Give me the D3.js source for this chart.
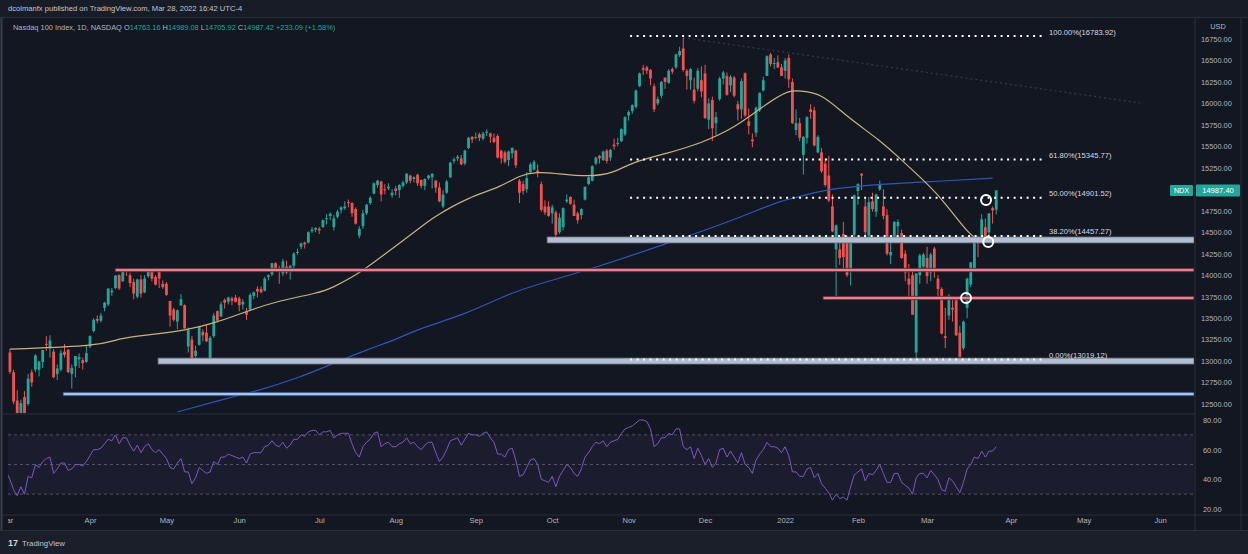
<!DOCTYPE html>
<html><head><meta charset="utf-8">
<script src="https://cdn.jsdelivr.net/npm/d3@7"></script>
<style>
html,body{margin:0;padding:0;background:#131722;}
svg{display:block;font-family:"Liberation Sans",Arial,sans-serif;}
</style>
</head><body>
<svg id="c" width="1248" height="554"></svg>
<script>
// ---------- DATA ----------
const monthLabels = ["Mar","Apr","May","Jun","Jul","Aug","Sep","Oct","Nov","Dec","2022","Feb","Mar","Apr","May","Jun"];
const monthStarts = [0,23,44,64,86,107,129,150,171,192,214,234,253,276,296,317];
const priceTicks = [12500,12750,13000,13250,13500,13750,14000,14250,14500,14750,15000,15250,15500,15750,16000,16250,16500,16750];
const rsiTicks = [20,40,60,80];

// daily candles [open, high, low, close]
const mar21 = [[13250,13290,13060,13091],[13100,13140,12850,12873],[12870,12900,12500,12528],[12540,12660,12200,12300],[12330,12550,12210,12510],[12580,12650,12210,12299],[12500,12850,12480,12795],[12870,12900,12700,12751],[12900,13080,12870,13066],[12900,13000,12820,12995],[12990,13130,12920,13129],[13200,13290,13120,13194],[13150,13300,13040,13239],[13110,13140,12800,12812],[12850,12960,12780,12915],[12900,13130,12880,13096],[13110,13200,13040,13072],[13130,13140,12860,12872],[12850,12960,12680,12922],[12940,13060,12810,13059],[13020,13090,12920,13046],[13010,13040,12900,12976],[12990,13180,12980,13091]];
const apr21 = [[13170,13300,13150,13290],[13350,13500,13330,13480],[13490,13530,13440,13470],[13470,13560,13450,13530],[13620,13690,13580,13680],[13660,13845,13640,13845],[13800,13850,13760,13819],[13850,14000,13840,13996],[14000,14010,13830,13845],[13930,14045,13920,14041],[14070,14070,13990,14041],[14000,14030,13860,13908],[13920,13960,13720,13786],[13750,13960,13730,13950],[13950,14000,13740,13786],[13800,14000,13790,13961],[13990,14070,13970,14062],[14070,14070,13930,13960],[13980,14000,13880,13890],[14050,14060,13850,13960],[13900,13940,13840,13860]];
const may21 = [[13900,13920,13760,13770],[13700,13700,13400,13530],[13600,13620,13460,13480],[13460,13600,13370,13590],[13650,13780,13640,13720],[13650,13660,13380,13380],[13170,13390,13100,13360],[13250,13290,12980,12990],[13060,13180,12970,13120],[13190,13410,13180,13400],[13340,13370,13230,13300],[13330,13420,13220,13230],[13000,13290,12990,13270],[13290,13560,13270,13530],[13580,13590,13450,13470],[13520,13690,13510,13660],[13710,13730,13610,13680],[13690,13750,13660,13740],[13730,13750,13650,13700],[13740,13770,13680,13690]];
const jun21 = [[13730,13750,13580,13650],[13660,13720,13600,13690],[13580,13620,13480,13540],[13600,13790,13590,13770],[13760,13810,13720,13800],[13840,13870,13740,13810],[13840,13870,13790,13800],[13820,13980,13810,13960],[13980,14010,13940,14000],[14010,14140,13990,14140],[14140,14150,14050,14070],[14080,14110,13900,14040],[14020,14190,13990,14160],[14100,14170,14010,14030],[14050,14120,13950,14110],[14110,14270,14080,14250],[14260,14310,14240,14270],[14330,14380,14300,14370],[14380,14390,14310,14360],[14380,14510,14370,14500],[14510,14560,14490,14530],[14530,14560,14500,14550]];
const jul21 = [[14540,14560,14480,14522],[14560,14650,14550,14640],[14660,14710,14590,14663],[14690,14730,14640,14716],[14560,14700,14520,14660],[14680,14760,14660,14740],[14760,14800,14720,14790],[14780,14860,14760,14800],[14850,14880,14790,14840],[14840,14850,14680,14720],[14770,14790,14590,14600],[14460,14570,14430,14540],[14570,14760,14540,14720],[14720,14830,14700,14820],[14840,14920,14820,14900],[14950,15080,14940,15070],[15050,15110,15020,15100],[15090,15100,14860,14940],[15000,15060,14940,14990],[15010,15070,14990,15030],[14930,15000,14900,14960]];
const aug21 = [[15010,15040,14930,14980],[14990,15060,14900,15050],[15040,15100,15020,15080],[15080,15190,15060,15180],[15160,15170,15070,15100],[15120,15150,15080,15140],[15170,15180,15040,15070],[15110,15110,15010,15040],[15040,15130,14990,15120],[15130,15170,15110,15160],[15140,15190,15010,15180],[15100,15110,14960,15020],[15020,15080,14850,14860],[14800,14990,14780,14940],[14960,15110,14950,15090],[15140,15320,15130,15310],[15330,15370,15300,15350],[15360,15400,15330,15380],[15360,15400,15280,15290],[15300,15460,15280,15450],[15480,15610,15470,15600],[15610,15620,15540,15580]];
const sep21 = [[15600,15660,15580,15610],[15640,15660,15560,15600],[15590,15670,15570,15650],[15660,15700,15620,15670],[15650,15660,15540,15610],[15600,15650,15540,15550],[15620,15640,15360,15370],[15450,15460,15300,15360],[15430,15450,15300,15320],[15340,15450,15270,15440],[15420,15490,15360,15480],[15450,15460,15250,15280],[15100,15120,14840,14960],[15060,15100,14940,14980],[15000,15200,14960,15130],[15200,15310,15180,15290],[15230,15340,15220,15320],[15220,15290,15140,15200],[15060,15090,14740,14760],[14800,14870,14700,14730],[14800,14860,14680,14690]];
const oct21 = [[14720,14820,14600,14790],[14730,14750,14440,14470],[14500,14720,14480,14670],[14560,14790,14520,14780],[14860,14940,14840,14880],[14910,14920,14820,14830],[14820,14880,14690,14690],[14720,14740,14600,14640],[14700,14780,14650,14770],[14880,15030,14870,15030],[15060,15150,15050,15140],[15100,15280,15090,15270],[15300,15380,15280,15370],[15390,15400,15300,15360],[15340,15450,15330,15440],[15450,15470,15300,15330],[15370,15470,15330,15460],[15520,15590,15460,15500],[15530,15600,15500,15540],[15560,15710,15550,15700],[15640,15850,15620,15840]];
const nov21 = [[15860,15920,15800,15900],[15910,15990,15880,15980],[15960,16160,15940,16150],[16200,16360,16190,16350],[16410,16450,16330,16390],[16420,16440,16340,16380],[16390,16400,16210,16290],[16200,16230,15900,15930],[16000,16080,15980,16050],[16090,16260,16060,16250],[16300,16300,16170,16250],[16240,16400,16230,16380],[16400,16420,16340,16370],[16420,16580,16400,16570],[16560,16660,16540,16610],[16640,16765,16370,16390],[16380,16400,16160,16320],[16270,16410,16160,16400],[16160,16300,16000,16030],[16170,16410,16140,16380],[16270,16430,16070,16140]];
const dec21 = [[16350,16450,15820,15830],[15810,16060,15700,16000],[16040,16080,15560,15710],[15770,15900,15630,15840],[16050,16310,16030,16290],[16290,16380,16220,16360],[16320,16360,16090,16100],[16210,16330,16130,16310],[16300,16320,16070,16090],[15990,16030,15800,15930],[15930,16290,15820,16260],[16350,16360,15840,15860],[15790,15940,15640,15740],[15580,15650,15490,15560],[15660,15960,15610,15950],[15920,16130,15900,16120],[16150,16310,16140,16270],[16320,16560,16320,16550],[16570,16590,16430,16460],[16460,16530,16400,16470],[16480,16560,16410,16420],[16420,16460,16320,16320]];
const jan22 = [[16380,16530,16290,16500],[16530,16570,16180,16280],[16250,16290,15760,15770],[15690,15930,15630,15770],[15770,15830,15560,15600],[15400,15620,15170,15610],[15600,15850,15530,15840],[15930,15990,15820,15900],[15920,15960,15500,15510],[15430,15630,15420,15610],[15430,15480,15190,15210],[15300,15360,15030,15050],[15160,15390,14850,14870],[14800,14940,14500,14510],[14300,14590,13725,14580],[14300,14400,14120,14200],[14480,14620,14040,14210],[14400,14460,13980,14000],[14050,14450,13880,14440],[14470,14940,14440,14930]];
const feb22 = [[14980,15070,14820,15060],[15180,15190,14990,15160],[14800,14890,14460,14500],[14460,14910,14430,14850],[14860,14960,14740,14770],[14740,14950,14680,14940],[15000,15100,14980,15050],[14800,15000,14650,14690],[14700,14770,14230,14250],[14230,14400,14130,14270],[14450,14630,14420,14620],[14570,14650,14420,14620],[14490,14530,14190,14200],[14250,14290,13930,14030],[13960,14130,13750,13890],[14000,14050,13540,13540],[13100,14020,13020,14020],[14000,14250,13900,14230],[14100,14260,14050,14240]];
const mar22 = [[14200,14330,13900,13990],[14030,14260,13930,14240],[14310,14330,13970,14040],[13960,14000,13720,13840],[13840,13860,13310,13320],[13290,13620,13150,13270],[13530,13780,13480,13760],[13620,13720,13460,13600],[13720,13730,13290,13300],[13330,13410,13040,13050],[13150,13470,13130,13460],[13620,13970,13500,13960],[13890,14150,13860,14150],[14070,14420,14050,14420],[14410,14460,14210,14370],[14400,14710,14390,14650],[14560,14660,14430,14440],[14500,14720,14440,14720],[14780,14800,14600,14754],[14763,14989,14706,14987.4]];

const rsi = [45,40,33,29,35,30,42,41,50,48,52,54,55,44,47,51,51,46,47,50,50,49,52,
56,60,60,61,64,67,66,70,64,68,68,63,59,63,58,62,64,60,58,60,57,
54,48,47,51,54,45,45,37,41,48,46,44,45,52,50,55,55,57,56,55,
54,55,51,57,58,58,58,62,63,66,63,62,65,61,63,67,67,70,69,72,73,73,
70,72,72,73,68,70,71,71,71,64,58,55,62,65,67,71,72,62,64,65,62,
62,64,65,68,64,65,62,60,63,65,65,58,52,55,60,66,67,68,63,67,71,70,
70,69,71,72,68,65,57,57,55,60,61,53,42,43,48,53,54,50,40,39,38,
42,35,42,46,50,48,44,42,47,55,58,62,65,64,66,62,65,66,67,71,74,
75,76,78,80,80,79,74,62,64,68,68,71,70,74,74,62,60,62,54,61,56,
50,54,48,51,60,61,55,59,55,51,58,50,48,44,53,57,60,65,62,62,61,58,
62,56,45,45,42,42,47,48,41,44,37,34,31,26,30,27,28,26,35,43,
45,47,39,44,43,46,50,44,38,38,44,44,38,36,34,30,41,44,44,
41,46,43,40,33,32,41,39,35,31,38,47,50,55,54,59,55,59,59,62];

// moving averages [bar, price]
const ma50 = [[1,13140],[26,13175],[31,13268],[39,13303],[50,13362],[57,13443],[62,13513],[73,13688],[86,13793],[90,13862],[95,13978],[99,14084],[114,14561],[117,14666],[127,14910],[136,15027],[141,15166],[146,15201],[150,15190],[160,15143],[167,15190],[172,15318],[182,15423],[191,15539],[200,15710],[209,16001],[215,16156],[218,16144],[224,16121],[231,15842],[240,15574],[246,15341],[254,15027],[258,14840],[265,14445],[268,14400]];
const ma200 = [[47,12407],[62,12582],[68,12640],[81,12814],[90,12977],[99,13129],[108,13268],[114,13385],[127,13559],[136,13746],[145,13885],[160,14060],[182,14375],[200,14642],[213,14875],[218,14910],[224,14992],[240,15062],[258,15097],[271,15131]];

// fibonacci retracement
const fibRatios = [1, 0.618, 0.5, 0.382, 0];
const fibPrices = [16783.92, 15345.77, 14901.52, 14457.27, 13019.12];
const fibStart = 171.4, fibEnd = 285.4;

// horizontal drawings
const levelStarts = [148.6, 29.9, 224.4, 41.7, 15.6];
const levelPrices = [14410, 14060, 13734, 13000, 12616];
const levelKinds  = ["band", "pink", "pink", "band", "blue"];

const markers = [[269.2,14875],[269.8,14386],[263.7,13734]];
const trend = [[186,16765],[311.6,16005]];
const lastClose = 14987.40;

// ---------- DRAW ----------
const candles = [].concat(mar21,apr21,may21,jun21,jul21,aug21,sep21,oct21,nov21,dec21,jan22,feb22,mar22);
const svg = d3.select("#c");
const W = 1248, H = 554;
const paneL = 8, paneR = 1194, mainT = 18, mainB = 413, rsiT = 415, rsiB = 514;

const x = d3.scaleLinear().domain([0, 317]).range([6.3, 1160]);
const y = d3.scaleLinear().domain([12500, 16750]).range([404, 39]);
const yR = d3.scaleLinear().domain([20, 80]).range([509, 420]);

// backgrounds
svg.append("rect").attr("width", W).attr("height", H).attr("fill", "#131722");
svg.append("rect").attr("x",0).attr("y",0).attr("width",W).attr("height",17).attr("fill","#181c27");
svg.append("rect").attr("x",0).attr("y",531).attr("width",W).attr("height",23).attr("fill","#1b1f2a");
svg.append("line").attr("x1",1.5).attr("x2",1.5).attr("y1",17).attr("y2",531).attr("stroke","#3a3e4a").attr("stroke-width",2);
svg.append("line").attr("x1",1241).attr("x2",1241).attr("y1",17).attr("y2",531).attr("stroke","#2a2e39");
svg.append("line").attr("x1",0).attr("x2",W).attr("y1",17.5).attr("y2",17.5).attr("stroke","#2a2e39");
svg.append("line").attr("x1",paneR+1).attr("x2",paneR+1).attr("y1",17).attr("y2",531).attr("stroke","#2a2e39");
svg.append("line").attr("x1",0).attr("x2",paneR+1).attr("y1",414).attr("y2",414).attr("stroke","#2a2e39");
svg.append("line").attr("x1",0).attr("x2",W).attr("y1",515).attr("y2",515).attr("stroke","#2a2e39");
svg.append("line").attr("x1",0).attr("x2",W).attr("y1",530.5).attr("y2",530.5).attr("stroke","#2a2e39");

const defs = svg.append("defs");
defs.append("clipPath").attr("id","mainClip").append("rect").attr("x",paneL).attr("y",mainT).attr("width",paneR-paneL).attr("height",mainB-mainT);
defs.append("clipPath").attr("id","rsiClip").append("rect").attr("x",paneL).attr("y",rsiT).attr("width",paneR-paneL).attr("height",rsiB-rsiT);
defs.append("clipPath").attr("id","timeClip").append("rect").attr("x",paneL).attr("y",515).attr("width",paneR-paneL).attr("height",16);

// header
svg.append("text").attr("x",8).attr("y",11).attr("font-size",7.6).attr("fill","#c3c6ce")
  .text("dcolmanfx published on TradingView.com, Mar 28, 2022 16:42 UTC-4");
const hdr = svg.append("text").attr("x",13).attr("y",30).attr("font-size",7.4).attr("fill","#b2b5be");
hdr.append("tspan").text("Nasdaq 100 Index, 1D, NASDAQ  ");
[["O","14763.16"],["H","14989.08"],["L","14705.92"],["C","14987.42"]].forEach(([k,v])=>{
  hdr.append("tspan").attr("fill","#b2b5be").text(k);
  hdr.append("tspan").attr("fill","#26a69a").text(v + "  ");
});
hdr.append("tspan").attr("fill","#26a69a").text("+233.09 (+1.58%)");

// main pane
const main = svg.append("g").attr("clip-path","url(#mainClip)");

// faint trend line
main.append("line")
  .attr("x1", x(trend[0][0])).attr("y1", y(trend[0][1]))
  .attr("x2", x(trend[1][0])).attr("y2", y(trend[1][1]))
  .attr("stroke","#5d6170").attr("stroke-opacity",0.45).attr("stroke-width",1.2).attr("stroke-dasharray","2,3");

// candles
const bw = 2.8;
main.selectAll("line.wick").data(candles).join("line").attr("class","wick")
  .attr("x1",(d,i)=>x(i)).attr("x2",(d,i)=>x(i))
  .attr("y1",d=>y(d[1])).attr("y2",d=>y(d[2]))
  .attr("stroke",d=>d[3]>=d[0]?"#26a69a":"#ef5350").attr("stroke-width",1);
main.selectAll("rect.body").data(candles).join("rect").attr("class","body")
  .attr("x",(d,i)=>x(i)-bw/2).attr("width",bw)
  .attr("y",d=>y(Math.max(d[0],d[3])))
  .attr("height",d=>Math.max(1,Math.abs(y(d[0])-y(d[3]))))
  .attr("fill",d=>d[3]>=d[0]?"#26a69a":"#ef5350");

// moving averages
const maLine = d3.line().x(d=>x(d[0])).y(d=>y(d[1])).curve(d3.curveBasis);
main.append("path").attr("d",maLine(ma200)).attr("fill","none").attr("stroke","#2f55b8").attr("stroke-width",1.2);
main.append("path").attr("d",maLine(ma50)).attr("fill","none").attr("stroke","#c9b27c").attr("stroke-width",1.2);

// horizontal levels
levelPrices.forEach((p,i)=>{
  const k = levelKinds[i];
  const h = k==="band" ? 6 : 3.5;
  const fill = k==="band" ? "#b3bed0" : (k==="pink" ? "#e5828f" : "#a6c6f2");
  const stroke = k==="band" ? "#5d6a80" : (k==="pink" ? "#4a1b26" : "#27446e");
  main.append("rect").attr("x",x(levelStarts[i])).attr("y",y(p)-h/2)
    .attr("width",paneR - x(levelStarts[i])).attr("height",h)
    .attr("fill",fill).attr("stroke",stroke).attr("stroke-width",0.8);
});

// fib lines
fibPrices.forEach((p,i)=>{
  main.append("line").attr("x1",x(fibStart)).attr("x2",x(fibEnd))
    .attr("y1",y(p)).attr("y2",y(p))
    .attr("stroke","#ffffff").attr("stroke-width",2).attr("stroke-dasharray","2,4.5");
  main.append("text").attr("x",x(fibEnd)+4).attr("y",y(p)-1.5)
    .attr("font-size",7.6).attr("fill","#d8dae0")
    .text((fibRatios[i]*100).toFixed(2)+"%("+p.toFixed(2)+")");
});

// circle markers
main.selectAll("circle.mk").data(markers).join("circle").attr("class","mk")
  .attr("cx",d=>x(d[0])).attr("cy",d=>y(d[1])).attr("r",5)
  .attr("fill","none").attr("stroke","#ffffff").attr("stroke-width",2);

// right price axis
const yAxis = d3.axisRight(y).tickValues(priceTicks).tickSize(0).tickPadding(6).tickFormat(d3.format(".2f"));
const ya = svg.append("g").attr("transform",`translate(${paneR+1},0)`).call(yAxis);
ya.select(".domain").remove();
ya.selectAll("text").attr("fill","#b2b5be").attr("font-size",7.4).attr("font-family","Liberation Sans, Arial, sans-serif");
svg.append("text").attr("x",1218).attr("y",29).attr("text-anchor","middle").attr("font-size",7.4).attr("fill","#b2b5be").text("USD");

// last price tag
const ly = y(lastClose);
svg.append("rect").attr("x",paneR+2).attr("y",ly-6).attr("width",44).attr("height",12).attr("fill","#26a69a").attr("rx",1);
svg.append("text").attr("x",paneR+24).attr("y",ly+2.6).attr("text-anchor","middle").attr("font-size",7.6).attr("fill","#ffffff").text(lastClose.toFixed(2));
svg.append("rect").attr("x",1170).attr("y",ly-5.5).attr("width",23).attr("height",11).attr("fill","#26a69a").attr("rx",1);
svg.append("text").attr("x",1181.5).attr("y",ly+2.6).attr("text-anchor","middle").attr("font-size",7.2).attr("fill","#ffffff").text("NDX");

// RSI pane
const rg = svg.append("g").attr("clip-path","url(#rsiClip)");
rg.append("rect").attr("x",paneL).attr("width",paneR-paneL).attr("y",yR(70)).attr("height",yR(30)-yR(70)).attr("fill","#7e57c2").attr("fill-opacity",0.08);
[70,50,30].forEach(v=>{
  rg.append("line").attr("x1",paneL).attr("x2",paneR).attr("y1",yR(v)).attr("y2",yR(v))
    .attr("stroke","#787b86").attr("stroke-opacity",0.6).attr("stroke-dasharray","3,3");
});
rg.append("path").attr("d",d3.line().x((d,i)=>x(i)).y(d=>yR(d))(rsi))
  .attr("fill","none").attr("stroke","#7e57c2").attr("stroke-width",1);
const rAxis = d3.axisRight(yR).tickValues(rsiTicks).tickSize(0).tickPadding(8).tickFormat(d3.format(".2f"));
const ra = svg.append("g").attr("transform",`translate(${paneR+1},0)`).call(rAxis);
ra.select(".domain").remove();
ra.selectAll("text").attr("fill","#b2b5be").attr("font-size",7.4).attr("font-family","Liberation Sans, Arial, sans-serif");

// time axis (clip on an untransformed wrapper)
const xAxis = d3.axisBottom(x).tickValues(monthStarts).tickSize(0).tickPadding(3).tickFormat((d,i)=>monthLabels[i]);
const xwrap = svg.append("g").attr("clip-path","url(#timeClip)");
const xa = xwrap.append("g").attr("transform","translate(0,515)").call(xAxis);
xa.select(".domain").remove();
xa.selectAll("text").attr("fill","#b2b5be").attr("font-size",7.6).attr("font-family","Liberation Sans, Arial, sans-serif");

// footer logo
svg.append("text").attr("x",8).attr("y",546).attr("font-size",9).attr("font-weight","bold").attr("fill","#d1d4dc").text("17");
svg.append("text").attr("x",22).attr("y",546).attr("font-size",7.8).attr("fill","#c3c6ce").text("TradingView");
</script>
</body></html>
